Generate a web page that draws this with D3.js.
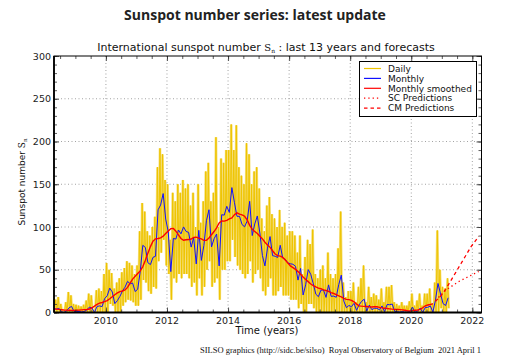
<!DOCTYPE html>
<html>
<head>
<meta charset="utf-8">
<script src="https://cdn.jsdelivr.net/npm/d3@7"></script>
<style>
  body { margin: 0; background: #fff; }
  svg { font-family: "DejaVu Sans", sans-serif; }
</style>
</head>
<body>
<svg id="chart" width="505" height="361"></svg>
<script>
// monthly series start in April 2008
var firstMonth = 2008 + 3 / 12;

var monthly = [
  4.7, 3.9, 4.9, 0.8, 0.0, 1.6, 5.5, 7.1, 1.3,
  1.3, 1.2, 0.6, 1.2, 2.9, 6.3, 5.5, 0.0, 7.1, 7.7, 6.9, 16.3,
  19.5, 28.5, 24.0, 10.4, 13.9, 18.8, 25.2, 29.6, 36.4, 33.6, 34.4, 24.5,
  27.3, 48.3, 78.6, 76.1, 58.2, 56.1, 64.5, 65.8, 120.1, 125.7, 139.1, 109.3,
  94.4, 47.8, 86.6, 85.9, 96.5, 92.0, 100.1, 94.8, 93.7, 76.5, 87.6, 56.8,
  96.1, 60.9, 78.3, 107.3, 120.2, 76.7, 86.2, 91.8, 54.5, 114.4, 113.9, 124.2,
  117.0, 146.1, 128.7, 112.5, 112.5, 102.9, 100.2, 106.9, 130.0, 90.0, 103.6, 112.9,
  93.0, 66.7, 54.5, 75.3, 88.8, 66.5, 65.8, 64.4, 78.6, 63.6, 62.2, 58.0,
  57.0, 56.4, 54.1, 37.9, 51.5, 20.5, 32.4, 50.2, 44.6, 33.4, 21.4, 18.5,
  26.1, 26.4, 17.7, 32.3, 18.9, 19.2, 17.8, 32.6, 43.7, 13.2, 5.7, 8.2,
  6.8, 10.7, 2.5, 8.9, 13.1, 15.6, 1.6, 8.7, 3.3, 4.9, 4.9, 3.1,
  7.7, 0.8, 9.4, 9.1, 9.9, 1.2, 0.9, 0.5, 1.1, 0.4, 0.5, 1.5,
  6.2, 0.2, 1.5, 5.2, 0.2, 5.8, 6.1, 7.5, 0.6, 14.4, 34.0, 21.8,
  10.4, 8.2, 17.2
];

// 13-month smoothed, April 2008 -> September 2020
var smoothed = [
  4.2, 3.9, 3.6, 3.3, 3.0, 2.8, 2.7, 2.5, 2.4,
  2.6, 2.8, 3.1, 3.4, 3.5, 4.1, 5.5, 7.4, 9.5, 10.9, 11.7, 12.7,
  14.0, 16.1, 18.5, 20.8, 23.0, 24.5, 25.2, 26.3, 29.4, 34.4, 39.0, 42.4,
  45.6, 48.7, 53.7, 61.0, 69.2, 77.1, 83.4, 86.2, 86.5, 87.3, 89.3, 92.4,
  95.4, 98.1, 98.2, 95.1, 90.9, 86.6, 84.5, 85.1, 85.3, 85.9, 87.8, 88.1,
  86.9, 86.2, 84.4, 84.4, 87.1, 91.0, 94.7, 99.1, 104.7, 107.0, 106.9, 107.7,
  109.4, 110.6, 114.4, 116.5, 115.0, 114.1, 112.6, 108.3, 101.9, 97.3, 94.8, 92.3,
  89.3, 86.1, 82.2, 79.0, 76.2, 72.2, 68.4, 66.5, 66.0, 64.4, 61.3, 57.8,
  54.5, 52.5, 50.5, 47.8, 44.8, 41.5, 38.6, 36.1, 33.3, 31.5, 29.9, 28.5,
  27.8, 26.5, 25.7, 24.8, 23.3, 22.2, 21.0, 19.5, 18.2, 16.6, 15.4, 15.0,
  14.2, 12.5, 9.8, 7.8, 7.4, 7.2, 7.0, 6.6, 6.5, 6.8, 6.7, 6.0,
  5.4, 5.0, 4.6, 4.3, 3.9, 3.65, 3.5, 3.4, 3.1, 2.6, 2.0, 1.8,
  2.2, 2.7, 3.0, 3.6, 5.6, 7.8, 8.8, 9.3, 10.3
];

// highest and lowest daily value seen in each month
var dailyHigh = [
  22, 15, 18, 10, 0, 12, 24, 20, 10,
  9, 8, 7, 9, 14, 22, 20, 0, 26, 28, 25, 45,
  58, 50, 46, 28, 35, 40, 47, 52, 60, 58, 55, 45,
  55, 95, 128, 118, 95, 90, 100, 112, 170, 192, 185, 155,
  150, 85, 140, 130, 150, 140, 155, 145, 150, 125, 140, 100,
  150, 105, 130, 165, 175, 130, 140, 205, 100, 180, 175, 190,
  190, 220, 190, 219, 170, 160, 150, 198, 185, 150, 165, 170,
  145, 110, 95, 125, 135, 115, 110, 100, 120, 100, 105, 90,
  95, 95, 90, 70, 90, 45, 65, 85, 80, 97, 45, 40,
  50, 55, 40, 70, 45, 40, 45, 75, 118, 35, 18, 25,
  25, 35, 12, 30, 40, 55, 12, 30, 18, 22, 20, 15,
  28, 12, 30, 30, 32, 12, 10, 8, 12, 8, 8, 13,
  22, 8, 14, 22, 8, 22, 22, 28, 10, 35, 96, 50,
  30, 28, 40
];
var dailyLow = [
  0, 0, 0, 0, 0, 0, 0, 0, 0,
  0, 0, 0, 0, 0, 0, 0, 0, 0, 0, 0, 0,
  0, 10, 8, 0, 0, 0, 8, 12, 15, 14, 12, 8,
  8, 15, 38, 35, 25, 22, 30, 28, 60, 70, 85, 55,
  45, 15, 40, 35, 45, 40, 45, 45, 40, 30, 35, 20,
  40, 20, 30, 50, 60, 30, 35, 40, 15, 50, 50, 60,
  60, 85, 65, 55, 50, 45, 40, 45, 60, 35, 45, 50,
  40, 25, 20, 30, 40, 20, 20, 25, 30, 20, 20, 20,
  15, 15, 15, 5, 10, 0, 0, 10, 10, 5, 0, 0,
  0, 0, 0, 0, 0, 0, 0, 0, 0, 0, 0, 0,
  0, 0, 0, 0, 0, 0, 0, 0, 0, 0, 0, 0,
  0, 0, 0, 0, 0, 0, 0, 0, 0, 0, 0, 0,
  0, 0, 0, 0, 0, 0, 0, 0, 0, 0, 0, 5,
  0, 0, 5
];

// predictions start October 2020
var predFirstMonth = 2020 + 9 / 12;
var cmPred = [13, 16, 19, 23, 27, 32, 37, 42, 47, 52, 57, 62, 67, 72, 77, 81, 85, 89];
var scPred = [14, 17, 20, 23, 26, 28, 30, 32, 34, 36, 37.5, 39, 40.5, 42, 43.5, 45, 46.5, 48];

var xMajor = [2010, 2012, 2014, 2016, 2018, 2020, 2022];
var yMajor = [0, 50, 100, 150, 200, 250, 300];

var svg = d3.select("#chart");
var pLeft = 54, pRight = 481.5, pTop = 56, pBottom = 312.5;

var x = d3.scaleLinear().domain([2008.3, 2022.3]).range([pLeft, pRight]);
var y = d3.scaleLinear().domain([0, 300]).range([pBottom, pTop]);

function monthTime(start, i) { return start + (i + 0.5) / 12; }

svg.append("defs").append("clipPath").attr("id", "plotClip")
  .append("rect").attr("x", pLeft).attr("y", pTop)
  .attr("width", pRight - pLeft).attr("height", pBottom - pTop);

// grid
var grid = svg.append("g").attr("stroke", "#8c8c8c").attr("stroke-width", 0.8)
  .attr("stroke-dasharray", "1,2.5");
xMajor.forEach(function(v) {
  grid.append("line").attr("x1", x(v)).attr("x2", x(v)).attr("y1", pTop).attr("y2", pBottom);
});
yMajor.slice(1, -1).forEach(function(v) {
  grid.append("line").attr("x1", pLeft).attr("x2", pRight).attr("y1", y(v)).attr("y2", y(v));
});

var plot = svg.append("g").attr("clip-path", "url(#plotClip)");

// daily: zig-zag between the monthly extremes
var dailyPts = [];
dailyHigh.forEach(function(h, i) {
  var t = firstMonth + i / 12;
  dailyPts.push([t + 0.25 / 12, h]);
  dailyPts.push([t + 0.75 / 12, dailyLow[i]]);
});
var line = d3.line().x(function(d) { return x(d[0]); }).y(function(d) { return y(d[1]); });

plot.append("path").datum(dailyPts).attr("d", line)
  .attr("fill", "none").attr("stroke", "#f6e07c").attr("stroke-width", 2.6)
  .attr("stroke-linejoin", "bevel");
plot.append("path").datum(dailyPts).attr("d", line)
  .attr("fill", "none").attr("stroke", "#eec400").attr("stroke-width", 1);

plot.append("path")
  .datum(monthly.map(function(v, i) { return [monthTime(firstMonth, i), v]; }))
  .attr("d", line).attr("fill", "none").attr("stroke", "#1010ff").attr("stroke-width", 1);

plot.append("path")
  .datum(smoothed.map(function(v, i) { return [monthTime(firstMonth, i), v]; }))
  .attr("d", line).attr("fill", "none").attr("stroke", "#ff0000").attr("stroke-width", 1.4);

plot.append("path")
  .datum(scPred.map(function(v, i) { return [monthTime(predFirstMonth, i), v]; }))
  .attr("d", line).attr("fill", "none").attr("stroke", "#ff0000").attr("stroke-width", 1.3)
  .attr("stroke-dasharray", "1.3,3");

plot.append("path")
  .datum(cmPred.map(function(v, i) { return [monthTime(predFirstMonth, i), v]; }))
  .attr("d", line).attr("fill", "none").attr("stroke", "#ff0000").attr("stroke-width", 1.3)
  .attr("stroke-dasharray", "3.5,3");

// axes: ticks pointing inward on every side
var xMinor = d3.range(2008.5, 2022.31, 0.5);
var yMinor = d3.range(0, 301, 10);

svg.append("g").attr("transform", "translate(0," + pBottom + ")")
  .call(d3.axisTop(x).tickValues(xMinor).tickSize(3).tickFormat(""));
svg.append("g").attr("transform", "translate(0," + pBottom + ")")
  .call(d3.axisTop(x).tickValues(xMajor).tickSize(5).tickFormat(""));
svg.append("g").attr("transform", "translate(0," + pTop + ")")
  .call(d3.axisBottom(x).tickValues(xMinor).tickSize(3).tickFormat(""));
svg.append("g").attr("transform", "translate(0," + pTop + ")")
  .call(d3.axisBottom(x).tickValues(xMajor).tickSize(5).tickFormat(""));
svg.append("g").attr("transform", "translate(" + pLeft + ",0)")
  .call(d3.axisRight(y).tickValues(yMinor).tickSize(3).tickFormat(""));
svg.append("g").attr("transform", "translate(" + pLeft + ",0)")
  .call(d3.axisRight(y).tickValues(yMajor).tickSize(5).tickFormat(""));
svg.append("g").attr("transform", "translate(" + pRight + ",0)")
  .call(d3.axisLeft(y).tickValues(yMinor).tickSize(3).tickFormat(""));
svg.append("g").attr("transform", "translate(" + pRight + ",0)")
  .call(d3.axisLeft(y).tickValues(yMajor).tickSize(5).tickFormat(""));
svg.selectAll(".domain").remove();
svg.selectAll(".tick line").attr("stroke", "#333").attr("stroke-width", 0.8);

// frame
svg.append("rect").attr("x", pLeft).attr("y", pTop)
  .attr("width", pRight - pLeft).attr("height", pBottom - pTop)
  .attr("fill", "none").attr("stroke", "#000").attr("stroke-width", 1);
svg.append("line").attr("x1", pLeft).attr("x2", pRight).attr("y1", pBottom).attr("y2", pBottom)
  .attr("stroke", "#000").attr("stroke-width", 1.8);
svg.append("line").attr("x1", pLeft).attr("x2", pLeft).attr("y1", pTop).attr("y2", pBottom)
  .attr("stroke", "#000").attr("stroke-width", 1.8);

// tick labels
svg.append("g").selectAll("text").data(xMajor).enter().append("text")
  .attr("x", function(d) { return x(d); }).attr("y", pBottom + 11)
  .attr("text-anchor", "middle").attr("font-size", 9.5).attr("fill", "#222")
  .text(function(d) { return d; });
svg.append("g").selectAll("text").data(yMajor).enter().append("text")
  .attr("x", pLeft - 3).attr("y", function(d) { return y(d) + 3.5; })
  .attr("text-anchor", "end").attr("font-size", 9.5).attr("fill", "#222")
  .text(function(d) { return d; });

// titles
svg.append("text").attr("x", 255).attr("y", 20).attr("text-anchor", "middle")
  .attr("font-family", "'Open Sans', sans-serif").attr("font-weight", "bold")
  .attr("font-size", 14).attr("fill", "#222")
  .text("Sunspot number series: latest update");

var sub = svg.append("text").attr("x", 266).attr("y", 51).attr("text-anchor", "middle")
  .attr("font-size", 11).attr("fill", "#111");
sub.append("tspan").text("International sunspot number ");
sub.append("tspan").attr("font-family", "'DejaVu Serif', serif").attr("font-size", 10).text("S");
sub.append("tspan").attr("font-family", "'DejaVu Serif', serif").attr("font-size", 6).attr("dy", 2).text("n");
sub.append("tspan").attr("dy", -2).text(" : last 13 years and forecasts");

var yl = svg.append("text").attr("transform", "translate(25,182) rotate(-90)")
  .attr("text-anchor", "middle").attr("font-size", 9).attr("fill", "#111");
yl.append("tspan").text("Sunspot number ");
yl.append("tspan").attr("font-family", "'DejaVu Serif', serif").text("S");
yl.append("tspan").attr("font-family", "'DejaVu Serif', serif").attr("font-size", 5.5).attr("dy", 2).text("n");

svg.append("text").attr("x", 267).attr("y", 334).attr("text-anchor", "middle")
  .attr("font-size", 10).attr("fill", "#111").text("Time (years)");

svg.append("text").attr("x", 481).attr("y", 353).attr("text-anchor", "end")
  .attr("font-family", "'Liberation Serif', serif").attr("font-size", 8.5).attr("fill", "#111")
  .attr("xml:space", "preserve")
  .text("SILSO graphics (http://sidc.be/silso)  Royal Observatory of Belgium  2021 April 1");

// legend
var legendItems = [
  { name: "Daily", color: "#eec400", dash: null },
  { name: "Monthly", color: "#1010ff", dash: null },
  { name: "Monthly smoothed", color: "#ff0000", dash: null },
  { name: "SC Predictions", color: "#ff0000", dash: "1.3,3" },
  { name: "CM Predictions", color: "#ff0000", dash: "3.5,3" }
];
var lg = svg.append("g");
lg.append("rect").attr("x", 359.5).attr("y", 61.5).attr("width", 117).attr("height", 55)
  .attr("fill", "#fff").attr("stroke", "#000").attr("stroke-width", 1);
legendItems.forEach(function(d, i) {
  var ly = 68.5 + i * 9.9;
  lg.append("line").attr("x1", 364).attr("x2", 381).attr("y1", ly).attr("y2", ly)
    .attr("stroke", d.color).attr("stroke-width", 1.2).attr("stroke-dasharray", d.dash);
  lg.append("text").attr("x", 388).attr("y", ly + 3.2).attr("font-size", 9).attr("fill", "#111")
    .text(d.name);
});
</script>
</body>
</html>
